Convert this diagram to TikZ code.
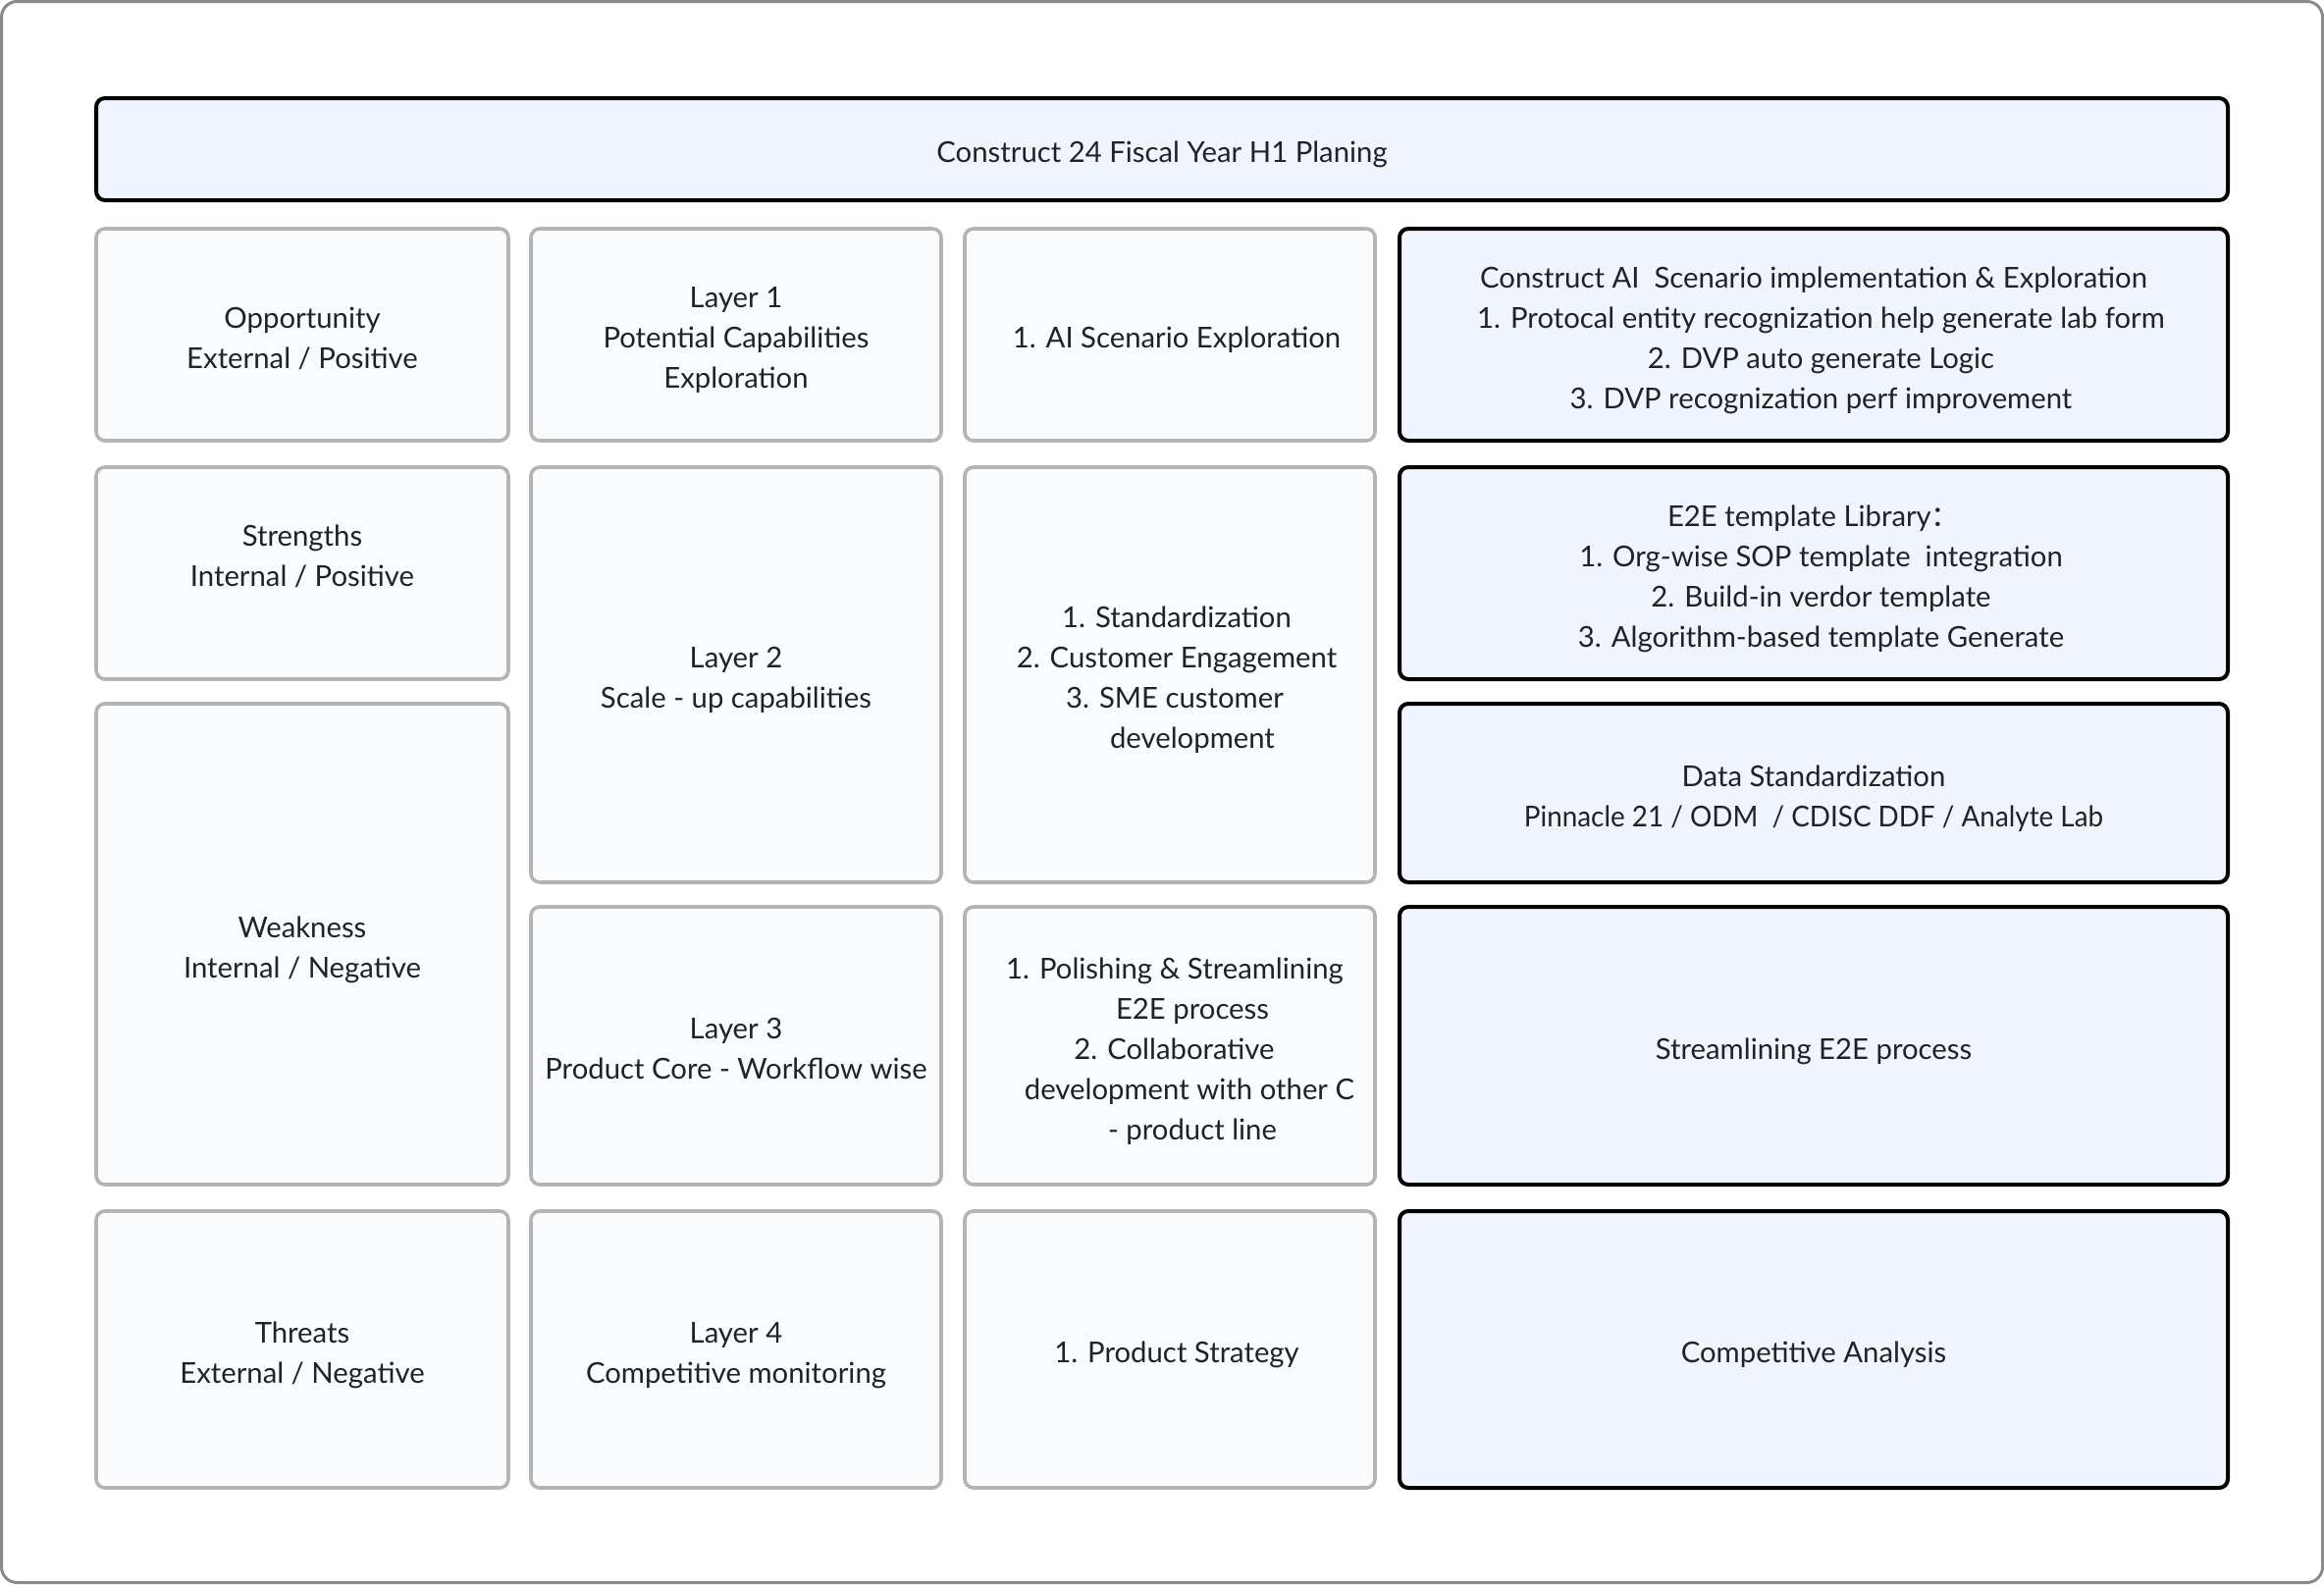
\documentclass[tikz,border=0pt]{standalone}
\usepackage{fontspec}
\setmainfont{Lato}
\newfontfamily\cjkfont{Noto Sans CJK SC}
\definecolor{txt}{HTML}{1F2329}
\definecolor{graystroke}{HTML}{B4B4B4}
\definecolor{grayfill}{HTML}{FAFBFD}
\definecolor{bluefill}{HTML}{EFF4FD}
\definecolor{outerline}{HTML}{8A8A8A}
\newcommand{\cs}{\rule[-7pt]{0pt}{41pt}}
\tikzset{
  cellbase/.style={rounded corners=9pt, inner sep=0pt, align=center, text=txt,
    font=\fontsize{29.3}{41}\selectfont},
  graycell/.style={cellbase, draw=graystroke, fill=grayfill, line width=3.6pt},
  bluecell/.style={cellbase, draw=black, fill=bluefill, line width=4pt},
}
\newcommand{\numl}{\hspace*{14pt}}
\newcommand{\contl}{\hspace*{46pt}}
\begin{document}
\begin{tikzpicture}[x=1pt,y=-1pt]
\useasboundingbox (0,0) rectangle (2368,1614);
\draw[outerline, line width=3pt, rounded corners=16pt] (1.5,1.5) rectangle (2366.5,1612.5);
% banner
\node[bluecell, minimum width=2172pt, minimum height=104pt] (banner) at (1184,152) {\cs Construct 24 Fiscal Year H1 Planing\cs};
% column 1
\node[graycell, minimum width=420pt, minimum height=216pt] (opp) at (308,341) {\cs Opportunity\\External / Positive\cs};
\node[graycell, minimum width=420pt, minimum height=216pt] (str) at (308,584) {\cs Strengths\\Internal / Positive\\\cs};
\node[graycell, minimum width=420pt, minimum height=490pt] (weak) at (308,962) {\cs Weakness\\Internal / Negative\cs};
\node[graycell, minimum width=420pt, minimum height=282pt] (thr) at (308,1375) {\cs Threats\\External / Negative\cs};
% column 2
\node[graycell, minimum width=418pt, minimum height=216pt] (l1) at (750,341) {\cs Layer 1\\Potential Capabilities\\Exploration\cs};
\node[graycell, minimum width=418pt, minimum height=423pt] (l2) at (750,687.5) {\cs Layer 2\\Scale - up capabilities\cs};
\node[graycell, minimum width=418pt, minimum height=283pt] (l3) at (750,1065.5) {\cs Layer 3\\Product Core - Workflow wise\cs};
\node[graycell, minimum width=418pt, minimum height=282pt] (l4) at (750,1375) {\cs Layer 4\\Competitive monitoring\cs};
% column 3
\node[graycell, minimum width=418pt, minimum height=216pt] (a1) at (1192,341) {\cs\numl 1. AI Scenario Exploration\cs};
\node[graycell, minimum width=418pt, minimum height=423pt] (a2) at (1192,687.5) {\cs\numl 1. Standardization\\\numl 2. Customer Engagement\\\hspace*{10pt}3. SME customer\\\contl development\cs};
\node[graycell, minimum width=418pt, minimum height=283pt] (a3) at (1192,1065.5) {\cs\hspace*{10pt}1. Polishing \& Streamlining\\\contl E2E process\\\hspace*{9pt}2. Collaborative\\\hspace*{40pt}development with other C\\\contl - product line\cs};
\node[graycell, minimum width=418pt, minimum height=282pt] (a4) at (1192,1375) {\cs\numl 1. Product Strategy\cs};
% column 4
\node[bluecell, minimum width=844pt, minimum height=216pt] (b1) at (1848,341) {\cs Construct AI\ \ Scenario implementation \& Exploration\\\hspace*{15pt}1. Protocal entity recognization help generate lab form\\\hspace*{15pt}2. DVP auto generate Logic\\\hspace*{15pt}3. DVP recognization perf improvement\cs};
\node[bluecell, minimum width=844pt, minimum height=216pt] (b2) at (1848,584) {\cs E2E template Library{\cjkfont ：}\\\hspace*{15pt}1. Org-wise SOP template\ \ integration\\\hspace*{15pt}2. Build-in verdor template\\\hspace*{15pt}3. Algorithm-based template Generate\cs};
\node[bluecell, minimum width=844pt, minimum height=182pt] (b3) at (1848,808) {\cs Data Standardization\\\scalebox{0.95}[1]{Pinnacle 21 / ODM\ \ / CDISC DDF / Analyte Lab}\cs};
\node[bluecell, minimum width=844pt, minimum height=283pt] (b4) at (1848,1065.5) {\cs Streamlining E2E process\cs};
\node[bluecell, minimum width=844pt, minimum height=282pt] (b5) at (1848,1375) {\cs Competitive Analysis\cs};
\end{tikzpicture}
\end{document}
